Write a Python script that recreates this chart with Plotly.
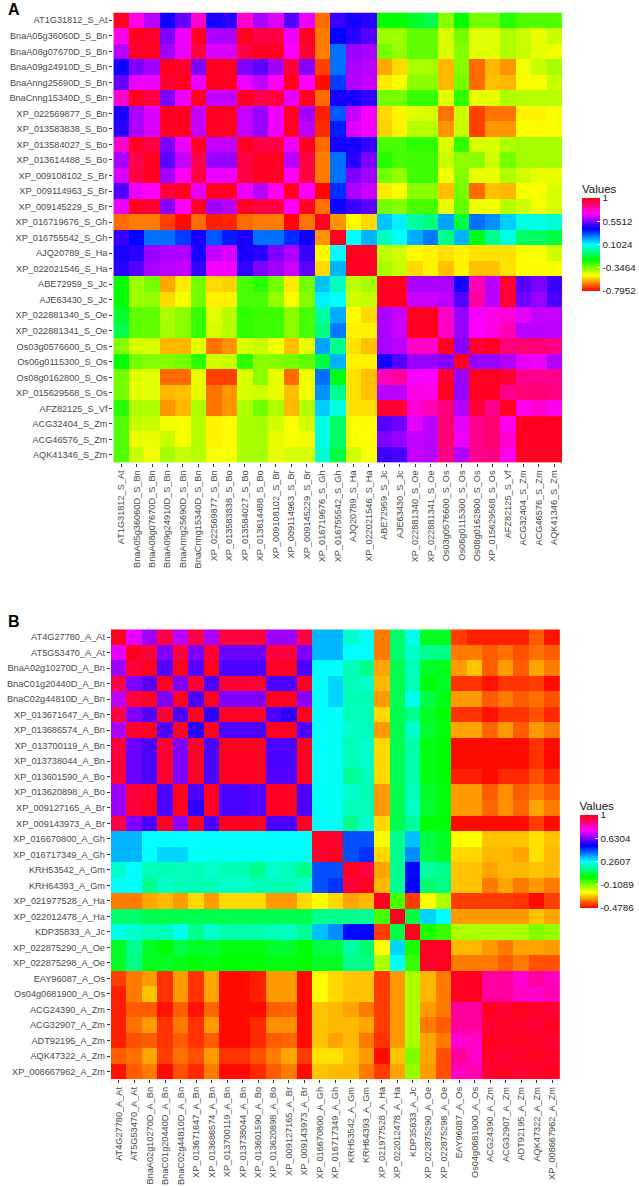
import plotly.graph_objects as go

W, H = 639, 1186

labels_a = ["AT1G31812_S_At", "BnaA05g36060D_S_Bn", "BnaA08g07670D_S_Bn", "BnaA09g24910D_S_Bn",
            "BnaAnng25690D_S_Bn", "BnaCnng15340D_S_Bn", "XP_022569877_S_Bn", "XP_013583838_S_Bo",
            "XP_013584027_S_Bo", "XP_013614488_S_Bo", "XP_009108102_S_Br", "XP_009114963_S_Br",
            "XP_009145229_S_Br", "XP_016719676_S_Gh", "XP_016755542_S_Gh", "AJQ20789_S_Ha",
            "XP_022021546_S_Ha", "ABE72959_S_Jc", "AJE63430_S_Jc", "XP_022881340_S_Oe",
            "XP_022881341_S_Oe", "Os03g0576600_S_Os", "Os06g0115300_S_Os", "Os08g0162800_S_Os",
            "XP_015629568_S_Os", "AFZ82125_S_Vf", "ACG32404_S_Zm", "ACG46576_S_Zm", "AQK41346_S_Zm"]

labels_b = ["AT4G27780_A_At", "AT5G53470_A_At", "BnaA02g10270D_A_Bn", "BnaC01g20440D_A_Bn",
            "BnaC02g44810D_A_Bn", "XP_013671647_A_Bn", "XP_013686574_A_Bn", "XP_013700119_A_Bn",
            "XP_013738044_A_Bn", "XP_013601590_A_Bo", "XP_013620898_A_Bo", "XP_009127165_A_Br",
            "XP_009143973_A_Br", "XP_016670800_A_Gh", "XP_016717349_A_Gh", "KRH53542_A_Gm",
            "KRH64393_A_Gm", "XP_021977528_A_Ha", "XP_022012478_A_Ha", "KDP35833_A_Jc",
            "XP_022875290_A_Oe", "XP_022875298_A_Oe", "EAY96087_A_Os", "Os04g0681900_A_Os",
            "ACG24390_A_Zm", "ACG32907_A_Zm", "ADT92195_A_Zm", "AQK47322_A_Zm", "XP_008667962_A_Zm"]

# correlation matrices are symmetric, each row starts at the diagonal
upper_a = [
    [1, .73, .62, .42, .52, .76, .43, .45, .76, .60, .66, .50, .68, -.67, .47, .43, .45, -.20, -.20, -.15, -.11, -.35, -.20, -.33, -.33, -.24, -.29, -.29, -.29],
    [1, .96, .55, .68, .97, .60, .60, .97, .92, .93, .68, .97, -.65, .40, .45, .50, -.38, -.38, -.31, -.31, -.45, -.33, -.46, -.46, -.40, -.43, -.47, -.43],
    [1, .59, .68, .93, .66, .66, .93, .98, .98, .70, .95, -.65, .27, .58, .60, -.33, -.37, -.31, -.31, -.45, -.35, -.46, -.46, -.40, -.43, -.47, -.48],
    [1, .96, .55, .99, .99, .55, .51, .59, .94, .56, -.72, .27, .60, .62, -.60, -.54, -.40, -.39, -.58, -.35, -.67, -.58, -.62, -.48, -.43, -.39],
    [1, .68, .99, .99, .68, .63, .71, 1, .70, -.78, .33, .61, .63, -.52, -.49, -.36, -.36, -.58, -.33, -.67, -.57, -.58, -.49, -.49, -.43],
    [1, .63, .63, .99, .92, .93, .67, .97, -.67, .43, .43, .46, -.33, -.33, -.26, -.26, -.46, -.25, -.47, -.47, -.40, -.41, -.41, -.41],
    [1, 1, .63, .58, .68, .99, .59, -.76, .30, .63, .69, -.54, -.51, -.46, -.45, -.66, -.44, -.72, -.66, -.66, -.51, -.51, -.49],
    [1, .63, .58, .68, .99, .62, -.75, .37, .66, .69, -.55, -.51, -.41, -.41, -.62, -.43, -.72, -.62, -.62, -.50, -.50, -.49],
    [1, .93, .93, .68, .97, -.67, .43, .43, .46, -.28, -.28, -.25, -.25, -.45, -.25, -.45, -.45, -.40, -.39, -.39, -.39],
    [1, .99, .62, .93, -.65, .27, .45, .55, -.24, -.28, -.27, -.27, -.43, -.36, -.36, -.44, -.33, -.39, -.39, -.39],
    [1, .71, .93, -.65, .27, .55, .59, -.33, -.37, -.27, -.27, -.48, -.35, -.47, -.47, -.40, -.44, -.47, -.47],
    [1, .70, -.79, .35, .60, .64, -.52, -.49, -.36, -.36, -.57, -.33, -.67, -.57, -.58, -.49, -.49, -.45],
    [1, -.66, .42, .47, .51, -.33, -.35, -.28, -.28, -.47, -.31, -.48, -.48, -.41, -.44, -.48, -.45],
    [1, -.62, -.50, -.54, .17, .12, -.01, -.05, .21, -.12, .27, .23, .16, .07, .07, .05],
    [1, .10, .19, .03, .10, .20, .26, -.03, .19, -.17, -.03, .07, -.08, -.08, -.12],
    [1, .99, -.42, -.44, -.50, -.51, -.53, -.51, -.53, -.53, -.53, -.49, -.49, -.44],
    [1, -.39, -.43, -.54, -.51, -.57, -.51, -.57, -.57, -.53, -.50, -.50, -.49],
    [1, .99, .60, .60, .60, .43, .79, .62, .95, .50, .55, .47],
    [1, .64, .64, .62, .50, .82, .62, .95, .53, .58, .49],
    [1, .99, .77, .58, .69, .73, .75, .67, .63, .63],
    [1, .77, .58, .70, .73, .79, .62, .62, .62],
    [1, .56, .95, .98, .86, .87, .87, .85],
    [1, .58, .58, .61, .67, .68, .61],
    [1, .97, .95, .84, .84, .84],
    [1, .84, .87, .87, .85],
    [1, .72, .76, .72],
    [1, .995, .995],
    [1, .995],
    [1],
]

upper_b = [
    [1, .73, .66, .94, .69, .94, .67, .95, .95, .95, .66, .66, .94, .33, .33, .21, .26, -.36, .12, .24, .045, .045, -.42, -.45, -.45, -.45, -.45, -.39, -.46],
    [1, .95, .63, .95, .63, .96, .61, .61, .61, .95, .95, .63, .33, .33, .26, .26, -.36, .12, .21, .15, .14, -.36, -.36, -.39, -.37, -.40, -.37, -.39],
    [1, .59, .98, .59, .98, .58, .58, .58, .97, .98, .58, .26, .26, .19, .15, -.32, .09, .19, .05, .04, -.33, -.29, -.39, -.33, -.39, -.32, -.36],
    [1, .63, .96, .58, .96, .96, .96, .58, .58, .97, .26, .30, .19, .21, -.30, .09, .19, .02, .05, -.43, -.43, -.46, -.43, -.43, -.42, -.47],
    [1, .58, .99, .63, .63, .63, .98, .98, .64, .26, .30, .19, .19, -.33, .09, .24, .08, .035, -.33, -.33, -.39, -.36, -.39, -.37, -.40],
    [1, .55, .97, .97, .97, .58, .55, .98, .26, .26, .19, .19, -.27, .09, .15, .05, .02, -.43, -.43, -.46, -.43, -.43, -.40, -.44],
    [1, .58, .58, .58, .98, .98, .58, .26, .25, .21, .19, -.33, .09, .21, .06, .03, -.32, -.32, -.38, -.33, -.39, -.33, -.36],
    [1, 1, .98, .58, .58, .98, .26, .25, .19, .21, -.27, .09, .18, .03, .02, -.47, -.47, -.47, -.47, -.47, -.43, -.47],
    [1, .98, .58, .58, .98, .26, .25, .19, .21, -.27, .09, .18, .03, .02, -.47, -.47, -.47, -.47, -.47, -.43, -.47],
    [1, .59, .59, .98, .26, .25, .15, .19, -.27, .09, .18, .03, .02, -.45, -.45, -.47, -.44, -.44, -.40, -.44],
    [1, .98, .58, .26, .25, .21, .19, -.33, .09, .19, .06, .03, -.33, -.33, -.39, -.34, -.39, -.36, -.39],
    [1, .58, .26, .25, .19, .19, -.33, .09, .20, .06, .03, -.33, -.33, -.38, -.34, -.38, -.32, -.36],
    [1, .26, .25, .15, .21, -.27, .09, .16, .02, .02, -.47, -.47, -.47, -.47, -.47, -.42, -.47],
    [1, .96, .43, .43, -.23, .15, .32, .08, .05, -.23, -.23, -.29, -.29, -.29, -.26, -.29],
    [1, .43, .46, -.27, .15, .37, .08, .05, -.27, -.27, -.30, -.30, -.32, -.26, -.30],
    [1, .95, -.32, .15, .50, .17, .15, -.29, -.29, -.32, -.30, -.30, -.29, -.30],
    [1, -.30, .16, .51, .12, .14, -.29, -.29, -.36, -.32, -.36, -.33, -.36],
    [1, -.05, -.42, -.23, -.15, -.42, -.42, -.42, -.42, -.43, -.47, -.42],
    [1, .08, .30, .26, -.33, -.33, -.33, -.33, -.33, -.29, -.32],
    [1, -.01, -.04, -.15, -.15, -.15, -.15, -.15, -.11, -.13],
    [1, .97, -.30, -.30, -.33, -.36, -.32, -.32, -.33],
    [1, -.36, -.36, -.36, -.39, -.36, -.40, -.40],
    [1, .98, .85, .85, .80, .85, .82],
    [1, .85, .85, .81, .81, .83],
    [1, .96, .98, .97, .96],
    [1, .97, .96, .98],
    [1, .97, .96],
    [1, .97],
    [1],
]

ticks_a = [-0.7952, -0.3464, 0.1024, 0.5512, 1]
ticks_b = [-0.4786, -0.1089, 0.2607, 0.6304, 1]

rainbow = [[0, "#ff0000"], [1 / 6, "#ffff00"], [1 / 3, "#00ff00"], [1 / 2, "#00ffff"],
           [2 / 3, "#0000ff"], [5 / 6, "#ff00ff"], [0.985, "#ff0020"], [1, "#ff0020"]]


def full_matrix(upper):
    n = len(upper)
    z = [[0] * n for _ in range(n)]
    for i, row in enumerate(upper):
        for k, v in enumerate(row):
            z[i][i + k] = v
            z[i + k][i] = v
    return z


def px_x(p):
    return p / W


def px_y(p):
    return 1 - p / H


def heat(labels, upper, ticks, xa, ya, bar_x, bar_top, bar_len):
    # the title sits inside the colorbar length, so top and len include it
    return go.Heatmap(
        x=labels, y=labels, z=full_matrix(upper), xaxis=xa, yaxis=ya,
        zmin=ticks[0], zmax=ticks[-1], colorscale=rainbow,
        colorbar=dict(
            title=dict(text="Values", side="top", font=dict(size=11.5, color="#111111")),
            tickmode="array", tickvals=ticks, ticktext=[str(t) for t in ticks],
            ticks="inside", ticklen=3, tickcolor="white", tickwidth=1,
            tickfont=dict(size=9.8, color="#222222"),
            x=px_x(bar_x), xanchor="left", xpad=0,
            y=px_y(bar_top), yanchor="top", ypad=0,
            lenmode="pixels", len=bar_len, thicknessmode="pixels", thickness=18,
            outlinewidth=0, borderwidth=0,
        ),
    )


fig = go.Figure()
fig.add_trace(heat(labels_a, upper_a, ticks_a, "x", "y", 582, 181, 110))
fig.add_trace(heat(labels_b, upper_b, ticks_b, "x2", "y2", 579.5, 798, 110))

axis_style = dict(showgrid=False, zeroline=False, ticks="outside", ticklen=3, tickwidth=1,
                  tickcolor="#333333", showline=False, tickmode="linear", dtick=1,
                  tickfont=dict(size=9.2, color="#4a4a4a"))

fig.update_layout(
    width=W, height=H, autosize=False,
    margin=dict(l=0, r=0, t=0, b=0),
    paper_bgcolor="white", plot_bgcolor="white",
    font=dict(family="Liberation Sans, Arial, sans-serif"),
    xaxis=dict(domain=[px_x(113.5), px_x(563)], anchor="y", tickangle=-90, **axis_style),
    yaxis=dict(domain=[px_y(462.7), px_y(12.5)], anchor="x", autorange="reversed", **axis_style),
    xaxis2=dict(domain=[px_x(111), px_x(561)], anchor="y2", tickangle=-90, **axis_style),
    yaxis2=dict(domain=[px_y(1079.3), px_y(629.3)], anchor="x2", autorange="reversed", **axis_style),
    annotations=[
        dict(text="<b>A</b>", x=px_x(14), y=px_y(10), xref="paper", yref="paper", showarrow=False,
             font=dict(size=16, color="black"), xanchor="center", yanchor="middle"),
        dict(text="<b>B</b>", x=px_x(14), y=px_y(621), xref="paper", yref="paper", showarrow=False,
             font=dict(size=16, color="black"), xanchor="center", yanchor="middle"),
    ],
)

fig.write_html("out.html", config=dict(displayModeBar=False),
               post_script="document.body.style.margin='0';document.body.style.overflow='hidden';")
